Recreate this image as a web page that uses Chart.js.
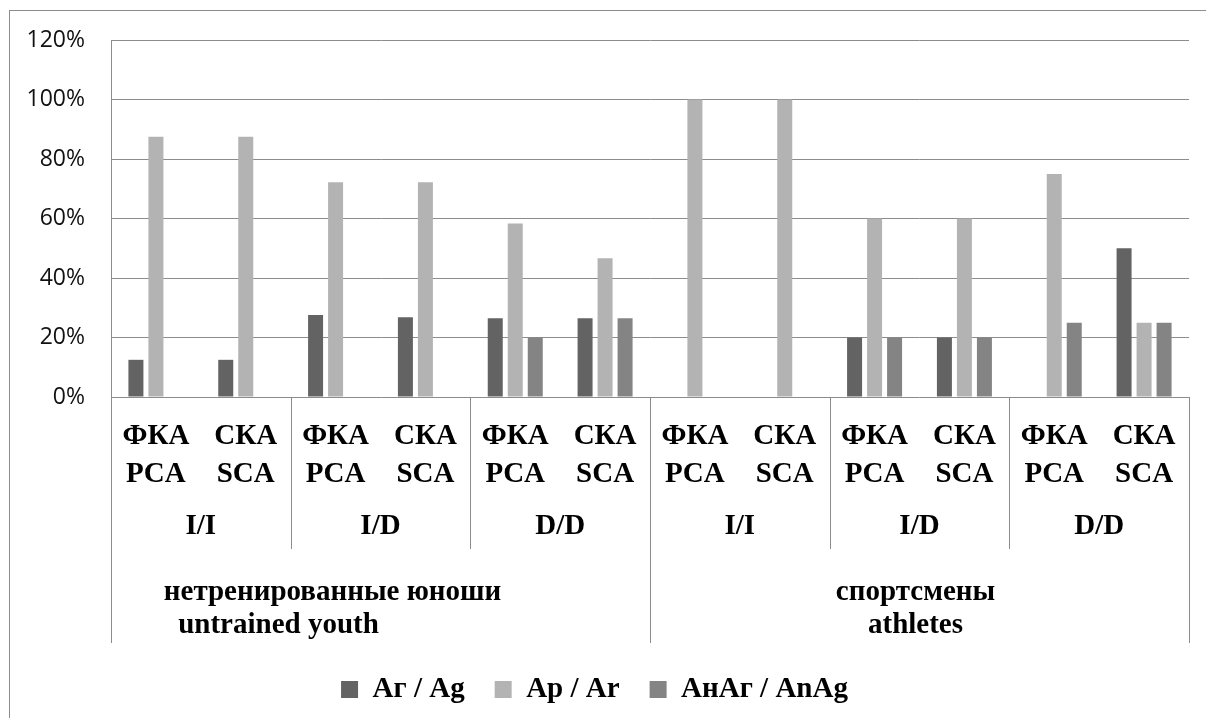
<!DOCTYPE html>
<html>
<head>
<meta charset="utf-8">
<script src="https://cdn.jsdelivr.net/npm/chart.js@4.4.1/dist/chart.umd.min.js"></script>
<style>
    html, body { margin: 0; padding: 0; background: #fff; }
    #wrap { width: 1206px; height: 718px; }
</style>
</head>
<body>
<div id="wrap"><canvas id="chart_canvas"></canvas></div>
<script>
// data (percent)
var pairLabels = [["ФКА", "PCA"], ["СКА", "SCA"]];
var typeLabels = ["I/I", "I/D", "D/D"];
var groupLabels = [["нетренированные юноши", "untrained youth"], ["спортсмены", "athletes"]];
var categories = ["ФКА I/I", "СКА I/I", "ФКА I/D", "СКА I/D", "ФКА D/D", "СКА D/D",
                  "ФКА I/I", "СКА I/I", "ФКА I/D", "СКА I/D", "ФКА D/D", "СКА D/D"];
var seriesNames = ["Аг / Ag", "Ар / Ar", "АнАг / AnAg"];
var agValues = [12.5, 12.5, 27.6, 26.8, 26.5, 26.5, 0, 0, 20, 20, 0, 50];
var arValues = [87.5, 87.5, 72.2, 72.2, 58.3, 46.6, 100, 100, 60, 60, 75, 25];
var anagValues = [0, 0, 0, 0, 20, 26.5, 0, 0, 20, 20, 25, 25];
var yTicks = [0, 20, 40, 60, 80, 100, 120];

var gridColor = "#8c8c8c";
var serifBold = "bold 29px 'Liberation Serif', 'Times New Roman', serif";

var multiLevelAxis = {
    id: 'multiLevelAxis',
    beforeDraw: function (chart) {
        var ctx = chart.ctx;
        ctx.save();
        ctx.fillStyle = "#fff";
        ctx.fillRect(0, 0, chart.width, chart.height);
        ctx.restore();
    },
    afterDraw: function (chart) {
        var ctx = chart.ctx;
        var xs = chart.scales.x;
        var area = chart.chartArea;
        var step = (area.right - area.left) / categories.length;
        ctx.save();

        // outer frame
        ctx.strokeStyle = gridColor;
        ctx.lineWidth = 1;
        ctx.strokeRect(9.5, 10.5, chart.width, chart.height);

        // separators below the axis
        for (var i = 0; i <= categories.length; i += 2) {
            var x = Math.round(area.left + i * step) + 0.5;
            var len = (i % 6 === 0) ? 246 : 152;
            ctx.beginPath();
            ctx.moveTo(x, area.bottom);
            ctx.lineTo(x, area.bottom + len);
            ctx.stroke();
        }

        ctx.fillStyle = "#000";
        ctx.textAlign = "center";
        ctx.textBaseline = "middle";
        ctx.font = serifBold;
        for (var c = 0; c < categories.length; c++) {
            var cx = xs.getPixelForValue(c);
            var pl = pairLabels[c % 2];
            ctx.fillText(pl[0], cx, area.bottom + 40);
            ctx.fillText(pl[1], cx, area.bottom + 78);
        }
        for (var t = 0; t < categories.length / 2; t++) {
            var tx = (xs.getPixelForValue(2 * t) + xs.getPixelForValue(2 * t + 1)) / 2;
            ctx.fillText(typeLabels[t % 3], tx, area.bottom + 130);
        }
        var shifts = [[-48, -102], [-4, -4]];
        for (var g = 0; g < groupLabels.length; g++) {
            var gx = (xs.getPixelForValue(6 * g) + xs.getPixelForValue(6 * g + 5)) / 2;
            ctx.fillText(groupLabels[g][0], gx + shifts[g][0], area.bottom + 196);
            ctx.fillText(groupLabels[g][1], gx + shifts[g][1], area.bottom + 229);
        }
        ctx.restore();
    }
};

var ctx = document.getElementById("chart_canvas");
var myChart = new Chart(ctx, {
    type: 'bar',
    data: {
        labels: categories,
        datasets: [{
            label: seriesNames[0],
            data: agValues,
            backgroundColor: "#636363",
        }, {
            label: seriesNames[1],
            data: arValues,
            backgroundColor: "#b3b3b3",
        }, {
            label: seriesNames[2],
            data: anagValues,
            backgroundColor: "#848484",
        }]
    },
    options: {
        responsive: true,
        maintainAspectRatio: false,
        animation: false,
        layout: {
            padding: { top: 40, right: 17, left: 0, bottom: 4 }
        },
        datasets: {
            bar: { categoryPercentage: 0.668, barPercentage: 0.75 }
        },
        scales: {
            x: {
                grid: { display: false },
                border: { display: false },
                ticks: { display: false },
                afterFit: function (scale) { scale.height = 248; }
            },
            y: {
                min: 0,
                max: 120,
                afterBuildTicks: function (scale) {
                    scale.ticks = yTicks.map(function (v) { return { value: v }; });
                },
                grid: { color: gridColor, lineWidth: 1, drawTicks: false },
                border: { display: true, color: gridColor },
                ticks: {
                    padding: 26,
                    color: "#111",
                    font: { family: "'Open Sans', 'Liberation Sans', sans-serif", size: 23 },
                    callback: function (v) { return v + '%'; }
                },
                afterFit: function (scale) { scale.width = 111; }
            }
        },
        plugins: {
            legend: {
                position: 'bottom',
                labels: {
                    boxWidth: 17,
                    boxHeight: 17,
                    padding: 30,
                    color: "#000",
                    font: { family: "'Liberation Serif', 'Times New Roman', serif", size: 29, weight: 'bold' }
                }
            },
            tooltip: { enabled: false }
        }
    },
    plugins: [multiLevelAxis]
});
</script>
</body>
</html>
